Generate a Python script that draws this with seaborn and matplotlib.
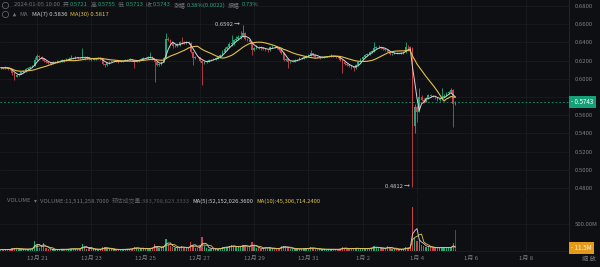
import numpy as np
import pandas as pd
import matplotlib
matplotlib.use("Agg")
import matplotlib.pyplot as plt
from matplotlib.transforms import blended_transform_factory
from matplotlib.lines import Line2D
import seaborn as sns

# ---------------- data (2-hour candles, Dec 19 16:00 -> Jan 5 10:00) ----------------
open0 = 0.6115
close = [
0.6122,0.6118,0.6125,0.6112,0.6105,0.6060,0.6025,0.6040,0.6055,0.6070,
0.6088,0.6105,0.6120,0.6130,0.6145,0.6210,0.6250,0.6240,0.6215,0.6195,
0.6180,0.6172,0.6168,0.6180,0.6186,0.6192,0.6198,0.6205,0.6200,0.6212,
0.6222,0.6230,0.6226,0.6235,0.6230,0.6228,0.6240,0.6225,0.6238,0.6215,
0.6212,0.6218,0.6222,0.6228,0.6224,0.6160,0.6150,0.6175,0.6188,0.6192,
0.6195,0.6190,0.6188,0.6196,0.6200,0.6205,0.6210,0.6214,0.6205,0.6190,
0.6195,0.6210,0.6222,0.6232,0.6228,0.6235,0.6240,0.6215,0.6180,0.6150,
0.6158,0.6190,0.6230,0.6440,0.6430,0.6390,0.6355,0.6365,0.6375,0.6405,
0.6400,0.6390,0.6408,0.6395,0.6290,0.6230,0.6243,0.6235,0.6195,0.6172,
0.6188,0.6195,0.6205,0.6212,0.6220,0.6225,0.6240,0.6265,0.6300,0.6330,
0.6345,0.6380,0.6390,0.6426,0.6440,0.6455,0.6470,0.6500,0.6440,0.6426,
0.6408,0.6320,0.6340,0.6353,0.6345,0.6335,0.6330,0.6320,0.6317,0.6345,
0.6353,0.6345,0.6338,0.6320,0.6285,0.6207,0.6215,0.6180,0.6190,0.6195,
0.6207,0.6212,0.6225,0.6230,0.6243,0.6250,0.6265,0.6280,0.6260,0.6243,
0.6238,0.6232,0.6240,0.6243,0.6245,0.6250,0.6255,0.6248,0.6240,0.6235,
0.6210,0.6180,0.6165,0.6150,0.6140,0.6125,0.6115,0.6150,0.6190,0.6215,
0.6243,0.6260,0.6275,0.6298,0.6310,0.6335,0.6345,0.6353,0.6340,0.6330,
0.6317,0.6300,0.6273,0.6278,0.6282,0.6280,0.6278,0.6285,0.6290,0.6353,
0.6345,0.6335,0.5480,0.5690,0.5640,0.5803,0.5770,0.5748,0.5790,0.5822,
0.5815,0.5803,0.5795,0.5767,0.5780,0.5803,0.5815,0.5840,0.5855,0.5877,
0.5721,0.5743]
high = [
0.6135,0.6130,0.6140,0.6132,0.6118,0.6110,0.6068,0.6048,0.6066,0.6080,
0.6096,0.6115,0.6128,0.6142,0.6155,0.6235,0.6270,0.6262,0.6248,0.6222,
0.6205,0.6190,0.6182,0.6192,0.6198,0.6204,0.6210,0.6218,0.6214,0.6225,
0.6240,0.6262,0.6240,0.6250,0.6245,0.6240,0.6335,0.6250,0.6248,0.6245,
0.6225,0.6228,0.6232,0.6240,0.6236,0.6230,0.6168,0.6182,0.6196,0.6200,
0.6205,0.6202,0.6198,0.6205,0.6210,0.6215,0.6220,0.6225,0.6222,0.6212,
0.6205,0.6218,0.6232,0.6245,0.6240,0.6250,0.6298,0.6250,0.6222,0.6190,
0.6170,0.6200,0.6245,0.6500,0.6462,0.6440,0.6400,0.6378,0.6390,0.6420,
0.6463,0.6410,0.6420,0.6415,0.6400,0.6298,0.6255,0.6252,0.6240,0.6205,
0.6198,0.6205,0.6215,0.6222,0.6232,0.6238,0.6252,0.6278,0.6315,0.6345,
0.6360,0.6400,0.6481,0.6440,0.6470,0.6480,0.6520,0.6592,0.6510,0.6452,
0.6435,0.6415,0.6352,0.6368,0.6362,0.6355,0.6345,0.6342,0.6332,0.6360,
0.6368,0.6362,0.6355,0.6348,0.6328,0.6292,0.6228,0.6225,0.6198,0.6205,
0.6215,0.6222,0.6235,0.6242,0.6255,0.6262,0.6278,0.6317,0.6288,0.6268,
0.6250,0.6245,0.6250,0.6255,0.6256,0.6262,0.6268,0.6262,0.6255,0.6248,
0.6242,0.6218,0.6190,0.6172,0.6158,0.6148,0.6135,0.6160,0.6198,0.6225,
0.6252,0.6270,0.6285,0.6310,0.6322,0.6408,0.6360,0.6372,0.6362,0.6350,
0.6338,0.6325,0.6308,0.6288,0.6292,0.6290,0.6288,0.6295,0.6300,0.6408,
0.6370,0.6360,0.6345,0.5720,0.5710,0.5895,0.5820,0.5790,0.5805,0.5835,
0.5832,0.5825,0.5812,0.5800,0.5792,0.5895,0.5828,0.5852,0.5868,0.5900,
0.5885,0.5755]
low = [
0.6105,0.6108,0.6110,0.6100,0.6092,0.6040,0.5987,0.6015,0.6032,0.6048,
0.6062,0.6080,0.6098,0.6110,0.6125,0.6138,0.6200,0.6228,0.6205,0.6185,
0.6170,0.6162,0.6155,0.6160,0.6172,0.6178,0.6184,0.6190,0.6188,0.6194,
0.6205,0.6215,0.6214,0.6220,0.6218,0.6215,0.6220,0.6212,0.6218,0.6205,
0.6200,0.6205,0.6210,0.6215,0.6212,0.6150,0.6135,0.6142,0.6168,0.6180,
0.6184,0.6182,0.6178,0.6180,0.6188,0.6192,0.6198,0.6202,0.6196,0.6115,
0.6180,0.6188,0.6202,0.6215,0.6218,0.6220,0.6225,0.6205,0.5965,0.6138,
0.6140,0.6150,0.6182,0.6225,0.6415,0.6380,0.6340,0.6345,0.6352,0.6365,
0.6385,0.6378,0.6382,0.6380,0.6280,0.6150,0.6222,0.6225,0.6185,0.5932,
0.6160,0.6178,0.6185,0.6195,0.6202,0.6210,0.6215,0.6232,0.6255,0.6290,
0.6320,0.6335,0.6365,0.6375,0.6412,0.6425,0.6440,0.6458,0.6430,0.6410,
0.6395,0.6260,0.6305,0.6330,0.6332,0.6322,0.6318,0.6305,0.6300,0.6310,
0.6335,0.6335,0.6325,0.6308,0.6270,0.6195,0.6198,0.6115,0.6170,0.6182,
0.6185,0.6198,0.6202,0.6215,0.6220,0.6232,0.6240,0.6255,0.6250,0.6232,
0.6228,0.6222,0.6225,0.6232,0.6235,0.6238,0.6242,0.6238,0.6230,0.6225,
0.6198,0.6060,0.6155,0.6140,0.6128,0.6110,0.6090,0.6108,0.6142,0.6182,
0.6205,0.6235,0.6250,0.6265,0.6288,0.6300,0.6325,0.6335,0.6330,0.6318,
0.6305,0.6290,0.6262,0.6265,0.6270,0.6272,0.6268,0.6270,0.6278,0.6285,
0.6330,0.6322,0.4812,0.5400,0.5520,0.5630,0.5755,0.5735,0.5740,0.5775,
0.5800,0.5795,0.5782,0.5755,0.5760,0.5770,0.5795,0.5808,0.5832,0.5845,
0.5470,0.5713]
volume_m = [
28,22,35,30,25,48,62,40,33,30,
35,38,30,42,55,185,120,60,75,142,
50,35,30,28,25,30,32,35,28,30,
40,45,38,42,35,40,124,70,45,50,
38,30,28,32,35,65,70,45,38,30,
28,25,30,32,28,30,35,38,45,80,
50,42,40,48,38,45,60,55,124,75,
55,68,90,222,130,95,70,55,60,75,
85,55,60,48,172,110,60,55,90,253,
85,60,45,40,38,35,42,55,70,80,
65,90,110,85,70,75,90,120,95,70,
75,160,90,60,50,45,48,80,55,50,
45,40,42,50,100,85,55,70,45,40,
38,35,40,42,45,48,52,65,50,42,
35,30,32,35,30,32,35,30,28,32,
40,70,48,42,38,45,55,50,45,40,
42,45,48,55,60,85,65,55,48,45,
50,90,55,40,35,32,30,35,40,70,
55,60,815,250,180,200,120,95,80,75,
70,60,55,65,60,75,55,60,65,70,
150,11.5]
predicted_volume_m = 383.7
last_price = 0.5743
price_ticks = [0.48, 0.50, 0.52, 0.54, 0.56, 0.58, 0.60, 0.62, 0.64, 0.66, 0.68]
date_ticks_h = [0, 48, 96, 144, 192, 240, 288, 336, 384, 432]   # hours after Dec 21 00:00
date_labels = ["12月 21", "12月 23", "12月 25", "12月 27", "12月 29", "12月 31",
               "1月 2", "1月 4", "1月 6", "1月 8"]
start_hour = -32   # Dec 19 16:00
step_hours = 2

# ---------------- style ----------------
BG = "#0e0f12"
GRID = "#1c1e23"
TXT = "#7d8087"
GREEN = "#22a876"
RED = "#c7434b"
MA_W = "#d6d6d6"
MA_Y = "#e3c24a"
BOX_G = "#17a077"
ORANGE = "#e39a1b"

sns.set_theme(style="dark", rc={"axes.facecolor": BG, "figure.facecolor": BG})
FONT = ["Noto Sans CJK SC", "DejaVu Sans"]
plt.rcParams["font.family"] = FONT

W, H = 600, 267
fx = lambda px: px / W
fy = lambda py: 1 - py / H

fig = plt.figure(figsize=(6, 2.67), dpi=100, facecolor=BG)
ax = fig.add_axes([0, fy(196), fx(569), 196 / H])
axv = fig.add_axes([0, fy(251), fx(569), (251 - 197) / H])

n = len(close)
c = np.array(close)
o = np.array([open0] + close[:-1])
hi = np.array(high)
lo = np.array(low)
vol = np.array(volume_m, dtype=float)
hours = start_hour + step_hours * np.arange(n)
up = c >= o
cols = np.where(up, GREEN, RED)

xlim = ((0 - 37) / 1.131, (569 - 37) / 1.131)

# ---------------- price panel ----------------
ax.set_facecolor(BG)
ax.set_xlim(*xlim)
ax.set_ylim(0.4712, 0.6866)
ax.vlines(hours, lo, hi, colors=cols, lw=0.6, zorder=3)
ax.bar(hours, np.maximum(np.abs(c - o), 0.00025), bottom=np.minimum(o, c),
       width=1.5, color=cols, linewidth=0, zorder=3)
df = pd.DataFrame({"h": hours, "c": c})
df["ma7"] = df["c"].rolling(4, min_periods=1).mean()
df["ma30"] = df["c"].rolling(15, min_periods=1).mean()
sns.lineplot(data=df, x="h", y="ma7", ax=ax, color=MA_W, lw=0.7, zorder=4)
sns.lineplot(data=df, x="h", y="ma30", ax=ax, color=MA_Y, lw=0.8, zorder=4)
ax.axhline(last_price, color=BOX_G, lw=0.6, ls=(0, (2, 2.5)), zorder=2)

ax.set_yticks(price_ticks)
# the 0.5800 label sits under the current-price box, as in the reference
ax.set_yticklabels(["" if abs(t - 0.58) < 1e-9 else f"{t:.4f}" for t in price_ticks])
ax.yaxis.tick_right()
ax.tick_params(axis="y", length=0, pad=4, labelsize=4.3, labelcolor=TXT)
ax.set_xticks(date_ticks_h)
ax.tick_params(axis="x", length=0, labelbottom=False)
ax.grid(True, color=GRID, lw=0.5)
ax.set_xlabel("")
ax.set_ylabel("")
for s in ["top", "left", "bottom"]:
    ax.spines[s].set_visible(False)
ax.spines["right"].set_color("#26282d")
ax.spines["right"].set_linewidth(0.6)

tr = blended_transform_factory(fig.transFigure, ax.transData)
ax.text(fx(571), last_price, "- 0.5743", transform=tr, ha="left", va="center",
        fontsize=4.5, color="white", zorder=10,
        bbox=dict(boxstyle="square,pad=0.35", fc=BOX_G, ec="none"))

ih = int(np.argmax(hi))
il = int(np.argmin(lo))
ax.annotate("0.6592 →", xy=(hours[ih], hi[ih]), xytext=(-2, 0.5), textcoords="offset points",
            ha="right", va="center", fontsize=4.2, color="#c9c9c9")
ax.annotate("0.4812 →", xy=(hours[il], lo[il]), xytext=(-2, 0.5), textcoords="offset points",
            ha="right", va="center", fontsize=4.2, color="#c9c9c9")

# ---------------- volume panel ----------------
axv.set_facecolor(BG)
axv.set_xlim(*xlim)
axv.set_ylim(0, 54 * 500 / 27)
axv.bar(hours[-1], predicted_volume_m, width=1.2, color="#4a4c52", linewidth=0, zorder=2)
axv.bar(hours, vol, width=1.2, color=cols, linewidth=0, zorder=3)
dv = pd.DataFrame({"h": hours, "v": vol})
dv["ma5"] = dv["v"].rolling(3, min_periods=1).mean()
dv["ma10"] = dv["v"].rolling(5, min_periods=1).mean()
sns.lineplot(data=dv, x="h", y="ma5", ax=axv, color=MA_W, lw=0.6, zorder=4)
sns.lineplot(data=dv, x="h", y="ma10", ax=axv, color=MA_Y, lw=0.6, zorder=4)
axv.set_yticks([500])
axv.set_yticklabels(["500.00M"])
axv.yaxis.tick_right()
axv.tick_params(axis="y", length=0, pad=4, labelsize=4.3, labelcolor=TXT)
axv.set_xticks(date_ticks_h)
axv.set_xticklabels(date_labels)
axv.tick_params(axis="x", length=0, pad=3.5, labelsize=4.3, labelcolor=TXT)
axv.grid(True, color=GRID, lw=0.5)
axv.set_xlabel("")
axv.set_ylabel("")
for s in ["top", "left"]:
    axv.spines[s].set_visible(False)
axv.spines["bottom"].set_color("#1c1e23")
axv.spines["bottom"].set_linewidth(0.6)
axv.spines["right"].set_color("#26282d")
axv.spines["right"].set_linewidth(0.6)

trv = blended_transform_factory(fig.transFigure, axv.transData)
axv.text(fx(571), 60, "- 11.5M", transform=trv, ha="left", va="center",
         fontsize=4.5, color="#fff4dc", zorder=10,
         bbox=dict(boxstyle="square,pad=0.35", fc=ORANGE, ec="none"))
fig.text(fx(582), fy(259), "缩 放", fontsize=4.5, color=TXT, ha="left", va="center")

# ---------------- header texts ----------------
renderer = fig.canvas.get_renderer()

def seq(px, py, parts, size=3.9):
    """parts: (text, colour, gap-after in px) laid out left to right"""
    for s, col, gap in parts:
        t = fig.text(fx(px), fy(py), s, color=col, fontsize=size, ha="left", va="center")
        px += t.get_window_extent(renderer=renderer).width + gap
    return px

def icon(px, py):
    fig.add_artist(Line2D([fx(px)], [fy(py)], marker="o", ms=4.5, mfc="none",
                          mec="#6d7077", mew=0.5, transform=fig.transFigure))

g1 = "#6f737a"
icon(5, 5)
icon(5, 14)
# small bell symbol (no installed font has the emoji)
fig.add_artist(Line2D([fx(14)], [fy(14)], marker="^", ms=2.6, mfc="#6d7077",
                      mec="none", transform=fig.transFigure))

seq(14, 5, [("2024-01-05 10:00", g1, 2.5),
            ("开", g1, 1.5), ("0.5721", GREEN, 2.5),
            ("高", g1, 1.5), ("0.5755", GREEN, 2.5),
            ("低", g1, 1.5), ("0.5713", GREEN, 2.5),
            ("收", g1, 1.5), ("0.5743", GREEN, 2.5),
            ("涨幅", g1, 1.5), ("0.38%(0.0022)", GREEN, 2.5),
            ("振幅", g1, 1.5), ("0.73%", GREEN, 0)], size=4.25)
seq(19, 14, [("MA", g1, 5), ("MA(7) 0.5836", "#cfd0d3", 2.5),
             ("MA(30) 0.5817", MA_Y, 0)], size=4.3)
seq(7, 201, [("VOLUME", g1, 3), ("▾", g1, 4),
             ("VOLUME:11,511,258.7000", g1, 2.5),
             ("预估成交量:383,708,623.3333", "#55585e", 2.5),
             ("MA(5):52,152,026.3600", "#cfd0d3", 3),
             ("MA(10):45,306,714.2400", MA_Y, 0)], size=4.2)

fig.savefig("out.png", dpi=100, facecolor=BG)
